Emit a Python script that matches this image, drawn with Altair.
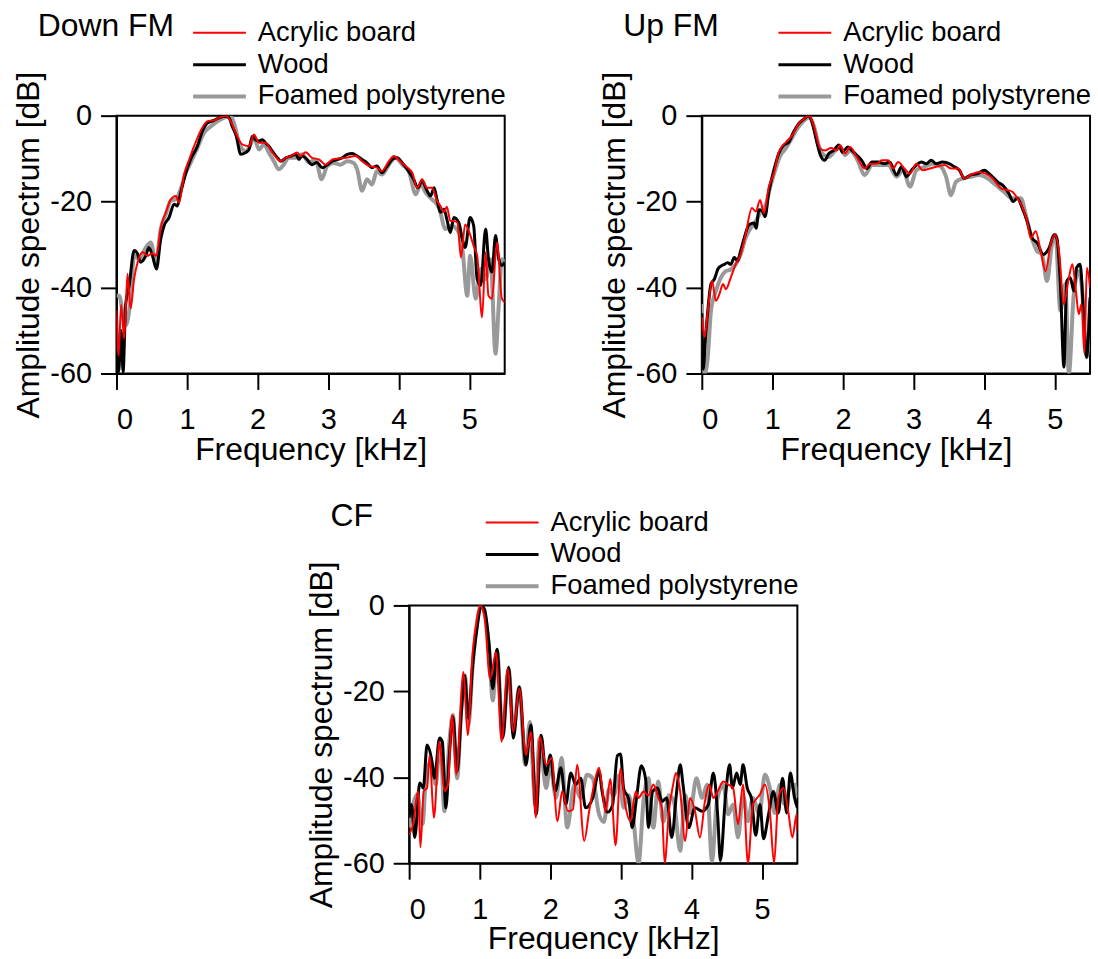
import altair as alt
import pandas as pd

SERIES = ["Acrylic board", "Wood", "Foamed polystyrene"]
COLORS = ["#ff0000", "#000000", "#999999"]
WIDTHS = [2, 4, 5]
X_TICKS = [0, 1, 2, 3, 4, 5]
Y_TICKS = [0, -20, -40, -60]

# ---- Down FM ----
down_acrylic = [(0, -45.3), (0.03, -55.8), (0.066, -44), (0.11, -51.9), (0.156, -36.8), (0.2, -44.9), (0.25, -38),
                (0.3, -34.1), (0.368, -31.8), (0.44, -32.6), (0.51, -32), (0.566, -32.6), (0.627, -26), (0.7, -22.5),
                (0.77, -19.5), (0.84, -18.7), (0.887, -20.2), (0.958, -13.7), (1.03, -10.2), (1.12, -6.3), (1.19, -3.6),
                (1.29, -1.3), (1.38, -1.1), (1.476, -0.3), (1.547, 0), (1.618, -1.3), (1.69, -4), (1.78, -6.7),
                (1.877, -7.1), (1.948, -4.4), (2.02, -6.3), (2.11, -6.3), (2.21, -8.6), (2.33, -10.6), (2.4, -9.8),
                (2.47, -9.4), (2.56, -8.6), (2.61, -9.4), (2.68, -8.5), (2.77, -9.8), (2.87, -10.2), (2.96, -11.4),
                (3.06, -10.2), (3.15, -10), (3.25, -9.8), (3.39, -9.4), (3.48, -10.6), (3.58, -11.7), (3.69, -12.1),
                (3.76, -12.9), (3.86, -10.6), (3.93, -9.4), (4.02, -10.6), (4.12, -12.1), (4.19, -13.3), (4.26, -16.8),
                (4.33, -14.8), (4.4, -16.8), (4.47, -16.8), (4.54, -19.8), (4.59, -21), (4.64, -22.5), (4.68, -21.2),
                (4.73, -24.5), (4.78, -24.5), (4.83, -24.9), (4.88, -33), (4.94, -25.3), (5.0, -27.2), (5.06, -30.3),
                (5.11, -32.6), (5.18, -46.9), (5.23, -31.8), (5.27, -41.9), (5.32, -42.6), (5.39, -29.5), (5.46, -42.6),
                (5.5, -43.4)]
down_wood = [(0, -45.7), (0.03, -59.6), (0.066, -50), (0.094, -59.6), (0.13, -44), (0.18, -39.5), (0.25, -31.4),
             (0.3, -32.2), (0.34, -34.1), (0.415, -32.6), (0.46, -30.7), (0.51, -32.6), (0.566, -35.7), (0.627, -28.7),
             (0.675, -25.6), (0.745, -23.7), (0.816, -20.6), (0.863, -21), (0.91, -17.9), (0.97, -14), (1.05, -10.2),
             (1.146, -7.1), (1.217, -3.6), (1.288, -1.7), (1.38, -1.1), (1.453, -0.5), (1.538, -0.15), (1.594, -0.5),
             (1.64, -2.5), (1.698, -4.8), (1.76, -9), (1.83, -8.6), (1.877, -7.9), (1.925, -4.8), (1.97, -5.6),
             (2.02, -5.9), (2.066, -5.6), (2.11, -6.3), (2.16, -7.1), (2.21, -8.3), (2.28, -9.8), (2.33, -10.6),
             (2.4, -9.8), (2.47, -9.4), (2.54, -9), (2.585, -10.2), (2.63, -9.4), (2.7, -10.2), (2.77, -11.4),
             (2.84, -10.9), (2.915, -12.1), (2.986, -11.4), (3.057, -10.6), (3.13, -10.2), (3.2, -9.8), (3.27, -9),
             (3.34, -8.8), (3.41, -9.4), (3.48, -10.2), (3.55, -11), (3.62, -12.1), (3.69, -11.7), (3.76, -13.3),
             (3.82, -12.1), (3.905, -10.2), (3.976, -9.8), (4.05, -11), (4.12, -12.5), (4.21, -14.8), (4.27, -16.8),
             (4.33, -15.2), (4.4, -17.5), (4.45, -18.7), (4.5, -16.8), (4.54, -19.5), (4.59, -22.5), (4.64, -21.8),
             (4.68, -24.1), (4.73, -27.2), (4.78, -23.7), (4.85, -24.9), (4.9, -28.7), (4.94, -30.7), (5.01, -23.7),
             (5.06, -25.6), (5.11, -38), (5.16, -39.5), (5.23, -26.4), (5.27, -33.4), (5.32, -36.4), (5.37, -27.9),
             (5.415, -33.4), (5.46, -34.9), (5.5, -34.1)]
down_foam = [(0, -41.9), (0.04, -41.9), (0.085, -45.7), (0.13, -48.8), (0.2, -42.6), (0.25, -32.6), (0.32, -33.4),
             (0.415, -30.7), (0.486, -29.5), (0.557, -34.1), (0.627, -26.4), (0.7, -22.9), (0.77, -19.8), (0.84, -19.5),
             (0.91, -17.1), (0.98, -13.3), (1.05, -11), (1.146, -7.5), (1.24, -4), (1.335, -2.5), (1.43, -1.3),
             (1.52, -0.5), (1.61, 0), (1.665, -1.7), (1.736, -6.3), (1.83, -8.3), (1.9, -6.7), (1.948, -5.2),
             (2.02, -7.9), (2.09, -6.7), (2.16, -8.6), (2.23, -10.6), (2.3, -12.5), (2.37, -11.4), (2.44, -9.8),
             (2.54, -9.8), (2.63, -9), (2.73, -10.9), (2.82, -10.2), (2.906, -14.8), (2.986, -11.7), (3.08, -11),
             (3.175, -11.4), (3.27, -10.6), (3.36, -11), (3.41, -12.5), (3.48, -17.5), (3.55, -14.8), (3.62, -16),
             (3.69, -12.9), (3.76, -13.7), (3.86, -11.4), (3.95, -9.8), (4.05, -11.4), (4.14, -12.9), (4.24, -18.3),
             (4.31, -16), (4.38, -17.9), (4.47, -19.5), (4.57, -21.4), (4.66, -26.4), (4.75, -25.6), (4.85, -27.2),
             (4.9, -31), (4.97, -41.9), (5.01, -32.6), (5.09, -42.6), (5.16, -35.7), (5.23, -38), (5.3, -33.4),
             (5.37, -55.4), (5.415, -44.2), (5.46, -33.4), (5.5, -34.1)]

# ---- Up FM ----
up_acrylic = [(0, -46.9), (0.04, -51.5), (0.085, -45.4), (0.145, -38.5), (0.2, -43.1), (0.25, -41.5), (0.3, -39.2),
              (0.34, -40.4), (0.41, -37.7), (0.48, -34.6), (0.55, -32.3), (0.62, -27.7), (0.71, -21.5), (0.765, -22.3),
              (0.825, -19.6), (0.88, -22.7), (0.95, -16.5), (1.02, -13.5), (1.09, -8.5), (1.19, -6.2), (1.28, -4.6),
              (1.37, -1.9), (1.445, -0.8), (1.515, 0), (1.585, -2.3), (1.68, -7.7), (1.75, -8.1), (1.83, -7.5),
              (1.91, -8.1), (1.96, -6.9), (2.03, -8.8), (2.1, -7.3), (2.195, -9.6), (2.31, -12.3), (2.38, -11.2),
              (2.48, -11.2), (2.55, -10.4), (2.64, -10.4), (2.71, -12.3), (2.78, -10.8), (2.87, -12.3), (2.95, -13.5),
              (3.04, -11.2), (3.13, -12.7), (3.23, -12.3), (3.32, -11.9), (3.44, -11.5), (3.53, -12.3), (3.63, -12.3),
              (3.72, -14.6), (3.81, -13.8), (3.93, -13.1), (4.02, -13.5), (4.12, -14.6), (4.24, -16.9), (4.33, -17.3),
              (4.4, -17.7), (4.47, -19.2), (4.54, -21.2), (4.61, -24.6), (4.66, -28.5), (4.73, -26.9), (4.8, -31.5),
              (4.87, -36.2), (4.94, -30), (5.0, -27.7), (5.06, -31.5), (5.13, -43.8), (5.2, -37.7), (5.25, -34.6),
              (5.3, -40.8), (5.34, -46.2), (5.38, -43.8), (5.42, -55.4), (5.455, -35.4), (5.5, -40)]
up_wood = [(0, -46), (0.02, -59), (0.05, -52.3), (0.085, -45.4), (0.13, -39.2), (0.18, -38), (0.225, -35.8),
           (0.27, -35), (0.32, -34.6), (0.366, -34.2), (0.41, -34.6), (0.46, -33), (0.507, -33.8), (0.55, -31.5),
           (0.6, -28.5), (0.67, -25.4), (0.74, -25), (0.77, -26.2), (0.81, -21.9), (0.86, -22.3), (0.896, -23.5),
           (0.95, -17.7), (1.02, -12.7), (1.09, -8.8), (1.16, -6.9), (1.23, -6.2), (1.3, -3.8), (1.37, -1.9),
           (1.445, -0.8), (1.515, 0), (1.56, -1.5), (1.63, -6.2), (1.68, -9.2), (1.74, -10.4), (1.8, -8.8),
           (1.87, -8.1), (1.94, -6.8), (1.99, -8.5), (2.07, -7.3), (2.125, -8.1), (2.195, -9.2), (2.265, -10.4),
           (2.34, -12.3), (2.41, -10.8), (2.5, -10.8), (2.59, -11.2), (2.66, -10.8), (2.76, -13.8), (2.83, -11.9),
           (2.9, -14.2), (2.97, -12.7), (3.04, -11.5), (3.11, -10.8), (3.18, -11.2), (3.25, -10.4), (3.32, -11.2),
           (3.41, -10.8), (3.51, -11.2), (3.58, -11.9), (3.65, -12.7), (3.72, -14.6), (3.81, -13.8), (3.91, -13.5),
           (4.0, -12.7), (4.09, -13.8), (4.19, -15.4), (4.28, -16.5), (4.35, -18.1), (4.41, -20), (4.47, -19.2),
           (4.54, -21.5), (4.61, -24.6), (4.68, -28.5), (4.75, -29.6), (4.84, -32.3), (4.92, -30.8), (4.99, -27.7),
           (5.03, -28.5), (5.08, -39.2), (5.13, -58.5), (5.17, -38.5), (5.22, -37.7), (5.27, -40.8), (5.31, -35.4),
           (5.36, -34.6), (5.41, -46.9), (5.45, -56.2), (5.5, -42.3)]
up_foam = [(0, -43.8), (0.04, -60), (0.085, -56.2), (0.13, -45.4), (0.2, -40.8), (0.27, -37.7), (0.34, -36.2),
           (0.41, -35.8), (0.48, -34.6), (0.55, -32.3), (0.62, -28.5), (0.69, -26.2), (0.765, -24.6), (0.835, -22.3),
           (0.905, -20.8), (0.975, -16.2), (1.046, -12.3), (1.116, -9.2), (1.187, -7.7), (1.257, -5.8), (1.35, -3.1),
           (1.445, -1.2), (1.524, -0.4), (1.585, -2.3), (1.656, -6.9), (1.73, -9.2), (1.8, -9.6), (1.87, -8.5),
           (1.96, -7.3), (2.03, -9.2), (2.1, -8.1), (2.195, -10), (2.31, -13.8), (2.41, -11.5), (2.52, -11.5),
           (2.64, -11.5), (2.76, -14.2), (2.85, -12.7), (2.95, -16.5), (3.04, -12.7), (3.16, -11.9), (3.27, -11.2),
           (3.39, -11.9), (3.46, -14.2), (3.53, -18.5), (3.6, -15.4), (3.7, -14.6), (3.81, -14.2), (3.93, -13.8),
           (4.05, -14.6), (4.17, -16.2), (4.28, -17.7), (4.4, -19.2), (4.52, -19.2), (4.59, -23.1), (4.66, -27.7),
           (4.75, -31.5), (4.82, -32.3), (4.89, -38.5), (4.96, -30), (5.01, -27.7), (5.08, -45.4), (5.15, -39.2),
           (5.2, -60), (5.27, -41.5), (5.34, -36.2), (5.38, -39.2), (5.455, -56.2), (5.5, -43.1)]

# ---- CF ----
cf_acrylic = [(0, -53.3), (0.056, -50.9), (0.127, -43.2), (0.16, -56.3), (0.207, -43.2), (0.254, -42.5), (0.29, -34.8),
              (0.35, -49.4), (0.43, -31.7), (0.5, -43.2), (0.55, -41.7), (0.61, -25.5), (0.667, -39.4), (0.77, -15.5),
              (0.83, -30.2), (0.9, -10.9), (0.96, -3.2), (1.006, 0), (1.067, -2.5), (1.147, -17.1), (1.23, -10.9),
              (1.31, -31.7), (1.396, -14.8), (1.476, -29.4), (1.56, -19.4), (1.655, -34.8), (1.725, -29.4),
              (1.796, -49.4), (1.85, -30.5), (1.94, -37.1), (2.02, -35.5), (2.1, -50.2), (2.17, -43.2), (2.25, -47.9),
              (2.32, -47.5), (2.38, -37.1), (2.48, -54.8), (2.55, -47.9), (2.62, -41.7), (2.69, -37.8), (2.736, -42.7),
              (2.78, -48.1), (2.85, -40.4), (2.925, -55.8), (2.995, -38), (3.06, -46.3), (3.136, -50.2), (3.21, -43.3),
              (3.25, -44.8), (3.32, -43.3), (3.39, -44.2), (3.46, -41.7), (3.53, -44.8), (3.58, -47.1), (3.62, -60),
              (3.68, -47.9), (3.74, -41.7), (3.78, -39), (3.84, -43.3), (3.91, -54.8), (3.98, -44.8), (4.05, -47.9),
              (4.12, -54), (4.19, -45.6), (4.25, -41.7), (4.31, -44.8), (4.37, -43.3), (4.45, -41), (4.52, -41.7),
              (4.59, -42.5), (4.66, -50.9), (4.73, -41.7), (4.8, -60), (4.87, -46.3), (4.97, -44), (5.04, -41.7),
              (5.11, -47.9), (5.17, -60), (5.23, -44.8), (5.3, -42.5), (5.37, -47.9), (5.43, -54), (5.49, -48.6),
              (5.5, -52.4)]
cf_wood = [(0, -49.4), (0.033, -46.3), (0.08, -54), (0.15, -41.3), (0.2, -42.5), (0.254, -32.5), (0.315, -35.5),
           (0.36, -40.2), (0.43, -30.9), (0.47, -31.7), (0.52, -47.1), (0.57, -34.8), (0.62, -25.9), (0.68, -38.6),
           (0.74, -24.8), (0.785, -16.3), (0.84, -26.3), (0.9, -14), (0.96, -5.5), (1.02, -0.15), (1.067, -0.9),
           (1.13, -8.6), (1.185, -19.4), (1.245, -10.2), (1.325, -30.9), (1.41, -14.4), (1.476, -30.9), (1.56, -19),
           (1.655, -37.1), (1.725, -27.8), (1.8, -48.6), (1.87, -30.2), (1.94, -39.4), (2.0, -34.8), (2.07, -43.2),
           (2.15, -37.8), (2.22, -46.3), (2.29, -39), (2.36, -41.7), (2.43, -40.2), (2.5, -47.1), (2.6, -44.8),
           (2.69, -38.6), (2.736, -43.5), (2.81, -48.1), (2.88, -46.6), (2.95, -35), (2.995, -34.6), (3.04, -42.7),
           (3.11, -45), (3.16, -51.7), (3.22, -45), (3.29, -37.3), (3.35, -40.4), (3.39, -51.7), (3.45, -43.3),
           (3.52, -42.5), (3.58, -45.6), (3.65, -44.8), (3.72, -54), (3.79, -43.3), (3.84, -37.1), (3.88, -41.7),
           (3.96, -51.7), (4.05, -47.1), (4.15, -47.9), (4.24, -46.3), (4.31, -39), (4.37, -48.6), (4.41, -59.4),
           (4.48, -44.8), (4.54, -37.1), (4.58, -42.5), (4.64, -39), (4.69, -41.7), (4.73, -37.1), (4.79, -42.5),
           (4.85, -45), (4.91, -53.5), (4.97, -46.3), (5.02, -54.3), (5.09, -48.8), (5.16, -43.3), (5.23, -48.3),
           (5.29, -40.2), (5.35, -48.3), (5.4, -39), (5.46, -44.8), (5.5, -47.1)]
cf_foam = [(0, -51.7), (0.056, -46.3), (0.113, -44), (0.19, -50.9), (0.245, -38.6), (0.315, -36.3), (0.376, -41.7),
           (0.44, -30.9), (0.5, -47.9), (0.57, -31.7), (0.62, -25.5), (0.68, -40.2), (0.74, -24), (0.79, -16.3),
           (0.84, -27.8), (0.9, -14), (1.02, -0.15), (1.13, -9.4), (1.185, -22.1), (1.245, -10.5), (1.325, -30.2),
           (1.41, -14.8), (1.476, -29.4), (1.56, -19), (1.645, -37.1), (1.71, -27.1), (1.787, -46.3), (1.85, -30.9),
           (1.94, -42.5), (2.0, -37.1), (2.08, -44.8), (2.16, -35.5), (2.24, -51.7), (2.34, -41.7), (2.43, -44.8),
           (2.52, -39.4), (2.6, -40.2), (2.69, -48.6), (2.76, -50.4), (2.83, -42.7), (2.9, -44.2), (2.97, -39.6),
           (3.04, -47.1), (3.11, -44.2), (3.18, -50.4), (3.25, -60), (3.32, -45.6), (3.39, -40.2), (3.46, -51.7),
           (3.53, -41), (3.6, -50.4), (3.68, -44.2), (3.75, -45.6), (3.84, -57.1), (3.91, -44.2), (3.98, -48.3),
           (4.07, -40.2), (4.15, -44.8), (4.22, -41.7), (4.29, -59.4), (4.36, -45.6), (4.45, -41.7), (4.52, -48.6),
           (4.59, -46.3), (4.66, -54), (4.73, -44.2), (4.8, -50.2), (4.87, -44.8), (4.96, -48.6), (5.04, -39.4),
           (5.11, -42.5), (5.18, -48.3), (5.25, -41.7), (5.32, -46.3), (5.39, -42.5), (5.46, -41.7), (5.5, -44.8)]

PANELS = {
    "Down FM": {"Foamed polystyrene": down_foam, "Wood": down_wood, "Acrylic board": down_acrylic},
    "Up FM": {"Foamed polystyrene": up_foam, "Wood": up_wood, "Acrylic board": up_acrylic},
    "CF": {"Foamed polystyrene": cf_foam, "Wood": cf_wood, "Acrylic board": cf_acrylic},
}

FONT = "Liberation Sans"


def panel(name):
    rows = []
    # draw order: grey first, then black, then red on top
    for s, pts in PANELS[name].items():
        for f, db in pts:
            rows.append({"series": s, "f": f, "db": db})
    df = pd.DataFrame(rows)
    legend = alt.Legend(
        title=None, orient="none", legendX=75, legendY=-99,
        symbolType="stroke", symbolSize=2809, labelFontSize=27.5, labelFont=FONT,
        labelColor="black", labelOffset=10, rowPadding=0, clipHeight=31.5, padding=0, labelLimit=500,
    )
    return alt.Chart(df).mark_line(clip=True, interpolate="monotone").encode(
        x=alt.X("f:Q", scale=alt.Scale(domain=[0, 5.5], nice=False, zero=False),
                axis=alt.Axis(values=X_TICKS, title="Frequency [kHz]", labelExpr="'' + datum.value",
                              labelPadding=16, titlePadding=0)),
        y=alt.Y("db:Q", scale=alt.Scale(domain=[-60, 0], nice=False),
                axis=alt.Axis(values=Y_TICKS, title="Amplitude spectrum [dB]", labelExpr="'' + datum.value",
                              labelPadding=9, titlePadding=4)),
        color=alt.Color("series:N", scale=alt.Scale(domain=SERIES, range=COLORS), legend=legend),
        strokeWidth=alt.StrokeWidth("series:N", scale=alt.Scale(domain=SERIES, range=WIDTHS), legend=legend),
    ).properties(
        width=390, height=259,
        title=alt.TitleParams(name, anchor="start", frame="group", dx=-79, dy=30, fontSize=32,
                              font=FONT, fontWeight="normal", color="black"),
    )


top = alt.hconcat(panel("Down FM"), panel("Up FM"), spacing=90).resolve_scale(
    color="independent", strokeWidth="independent")
chart = alt.vconcat(top, panel("CF"), spacing=33, center=True).resolve_scale(
    color="independent", strokeWidth="independent"
).properties(
    padding={"left": 12, "top": 7, "right": 5, "bottom": 2}
).configure_axis(
    domainColor="black", domainWidth=2, tickColor="black", tickWidth=2, tickSize=16,
    labelFontSize=29, labelFont=FONT, labelColor="black",
    titleFontSize=32, titleFont=FONT, titleFontWeight="normal", titleColor="black",
    grid=False,
).configure_view(stroke="black", strokeWidth=2)

chart.save("out.html", embed_options={"renderer": "svg", "actions": False})
